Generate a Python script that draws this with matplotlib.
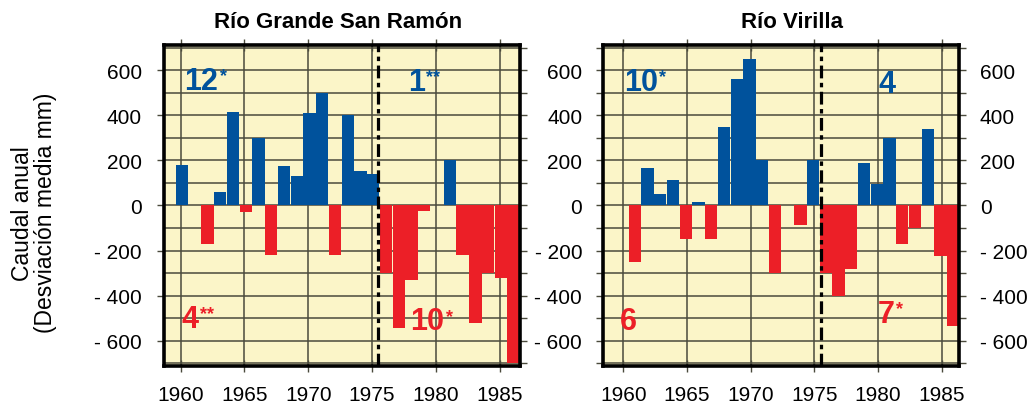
import numpy as np
import matplotlib
matplotlib.use('Agg')
import matplotlib.pyplot as plt

plt.rcParams['font.family'] = ['Liberation Sans', 'DejaVu Sans']

# annual flow anomalies (mm)
years_sr = [1960, 1962, 1963, 1964, 1965, 1966, 1967, 1968, 1969, 1970, 1971, 1972, 1973, 1974, 1975,
            1976, 1977, 1978, 1979, 1981, 1982, 1983, 1984, 1985, 1986]
vals_sr = [180, -170, 60, 415, -30, 300, -220, 175, 130, 410, 500, -220, 400, 155, 140,
           -300, -545, -330, -25, 200, -220, -520, -300, -320, -700]

years_vi = [1961, 1962, 1963, 1964, 1965, 1966, 1967, 1968, 1969, 1970, 1971, 1972, 1974, 1975,
            1976, 1977, 1978, 1979, 1980, 1981, 1982, 1983, 1984, 1985, 1986]
vals_vi = [-250, 165, 50, 115, -150, 15, -150, 350, 560, 650, 200, -300, -85, 200,
           -300, -400, -280, 190, 95, 300, -170, -100, 340, -225, -535]

titles = ['Río Grande San Ramón', 'Río Virilla']
# counts of positive / negative years before and after 1975
notes_sr = [('12', '*', 1960.3, 555, 'b'), ('4', '**', 1960.1, -505, 'r'),
            ('1', '**', 1977.8, 550, 'b'), ('10', '*', 1978.0, -515, 'r')]
notes_vi = [('10', '*', 1960.05, 550, 'b'), ('6', '', 1959.7, -515, 'r'),
            ('4', '', 1980.0, 540, 'b'), ('7', '*', 1980.0, -480, 'r')]

yticks = [600, 400, 200, 0, -200, -400, -600]
yticklabels = ['600', '400', '200', '0', '- 200', '- 400', '- 600']
xticks = [1960, 1965, 1970, 1975, 1980, 1985]

blue = '#00529C'
red = '#EC1F27'
bg = '#FBF5C8'
gridc = '#4a4a3c'

fig = plt.figure(figsize=(10.35, 4.1), dpi=100)
ax1 = fig.add_axes([0.1585, 0.1049, 0.3439, 0.7829])
ax2 = fig.add_axes([0.5826, 0.1049, 0.3440, 0.7829])


def draw(ax, years, vals, notes, xlim, shift):
    ax.set_facecolor(bg)
    y = np.array(years) + shift
    v = np.array(vals)
    cols = [blue if a > 0 else red for a in v]
    ax.bar(y, v, width=0.97, color=cols, zorder=3)
    ax.set_xlim(*xlim)
    ax.set_ylim(-713, 713)
    for h in range(-700, 701, 100):
        ax.axhline(h, color=gridc, lw=1.1, zorder=1)
    for xv in xticks:
        ax.axvline(xv, color=gridc, lw=1.1, zorder=1)
    ax.axvline(1975.5, color='black', lw=2.3, ls=(0, (4, 1.4, 1.4, 1.4)), zorder=5)
    for sp in ax.spines.values():
        sp.set_linewidth(2.6)
        sp.set_zorder(6)
    ax.set_xticks(xticks)
    ax.set_xticklabels([str(t) for t in xticks], fontsize=15)
    ax.set_yticks(yticks)
    ax.set_yticklabels(yticklabels, fontsize=15)
    ax.set_yticks(range(-700, 701, 100), minor=True)
    ax.tick_params(axis='x', which='both', direction='inout', length=8, width=1,
                   top=True, pad=10, color=gridc)
    ax.tick_params(axis='y', which='both', direction='out', length=5, width=1,
                   color=gridc, pad=11)
    for num, star, xx, yy, c in notes:
        col = blue if c == 'b' else red
        t = ax.text(xx, yy, num, color=col, fontsize=22, fontweight='bold',
                    ha='left', va='center', zorder=7)
        if star:
            ax.annotate(star, xy=(1, 1), xycoords=t, xytext=(1, -1),
                        textcoords='offset points', ha='left', va='top',
                        color=col, fontsize=13, fontweight='bold', zorder=7)


draw(ax1, years_sr, vals_sr, notes_sr, (1958.7, 1986.6), 0.1)
draw(ax2, years_vi, vals_vi, notes_vi, (1958.4, 1986.36), -0.1)

ax1.tick_params(axis='y', which='both', left=False, right=True, labelleft=True,
                labelright=False)
ax1.tick_params(axis='y', which='major', left=True, length=0, pad=11)
ax1.tick_params(axis='y', which='major', right=True, length=5)
ax2.tick_params(axis='y', which='both', left=True, right=True, labelleft=True,
                labelright=True)
ax2.tick_params(axis='y', which='major', pad=10)

ax1.set_title(titles[0], fontsize=16, fontweight='bold', pad=13, x=0.49)
ax2.set_title(titles[1], fontsize=16, fontweight='bold', pad=13, x=0.53)

fig.text(0.033, 0.48, 'Caudal anual\n(Desviación media mm)', rotation=90,
         ha='center', va='center', fontsize=16.5, multialignment='center',
         linespacing=1.0)

fig.savefig('out.png', dpi=100)
